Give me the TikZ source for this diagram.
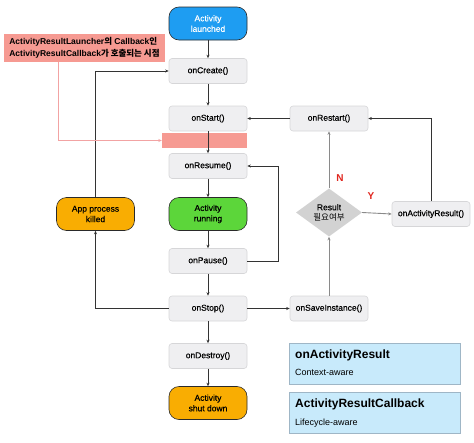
\documentclass[tikz,border=0pt]{standalone}
\usepackage{fontspec}
\setmainfont{Liberation Sans}
\newfontfamily\medfont[FakeBold=0.35]{Liberation Sans}
\newfontfamily\kr{Noto Sans CJK KR}
\usetikzlibrary{shapes.geometric,arrows.meta,calc}
\definecolor{nodegray}{HTML}{EFEFF1}
\definecolor{nodeborder}{HTML}{D6D6D8}
\definecolor{launchblue}{HTML}{1E9DF2}
\definecolor{runGreen}{HTML}{5CD63A}
\definecolor{killOrange}{HTML}{F9AD02}
\definecolor{salmon}{HTML}{F69A92}
\definecolor{pinkline}{HTML}{F2A3A3}
\definecolor{diagray}{HTML}{D2D2D2}
\definecolor{infoblue}{HTML}{C8EAFB}
\definecolor{infoborder}{HTML}{9FB6C6}
\definecolor{lblred}{HTML}{E0261E}
\definecolor{linegray}{HTML}{333333}
\definecolor{lightline}{HTML}{8A8A8A}
\definecolor{termborder}{HTML}{2A2A2A}
\begin{document}
\begin{tikzpicture}[x=1pt,y=-1pt,
  every node/.style={font=\fontsize{8.5}{10}\selectfont\medfont},
  stepbox/.style={draw=nodeborder,fill=nodegray,rounded corners=3pt,minimum width=78pt,minimum height=25pt,inner sep=1pt,line width=0.6pt},
  termbox/.style={draw=termborder,rounded corners=10pt,minimum width=78pt,minimum height=33pt,inner sep=1pt,align=center,line width=0.6pt,font=\fontsize{8.5}{10.5}\selectfont\medfont},
  infobox/.style={draw=infoborder,fill=infoblue,minimum width=171pt,minimum height=41pt,line width=0.8pt},
  conn/.style={draw=linegray,line width=0.7pt,-{Stealth[length=3.5pt,width=3pt]}},
  lconn/.style={draw=lightline,line width=0.9pt,-{Stealth[length=3.5pt,width=3pt]}},
  rlabel/.style={text=lblred,font=\fontsize{10}{12}\selectfont\bfseries}
]
\useasboundingbox (0,0) rectangle (474,442);

% nodes
\node[termbox,fill=launchblue,text=white] (launch) at (208,23.5) {Activity\\launched};
\node[stepbox] (create) at (208,71) {onCreate()};
\node[stepbox] (start) at (208,118.5) {onStart()};
\node[stepbox] (restart) at (329,118.5) {onRestart()};
\node[fill=salmon,minimum width=85pt,minimum height=15pt,inner sep=0pt] (mark) at (204.5,140.5) {};
\node[stepbox] (resume) at (208,166) {onResume()};
\node[termbox,fill=runGreen] (running) at (208,214) {Activity\\running};
\node[termbox,fill=killOrange] (killed) at (95.5,214) {App process\\killed};
\node[stepbox] (pause) at (208,261) {onPause()};
\node[stepbox] (stop) at (208,308.5) {onStop()};
\node[stepbox] (save) at (329,308.5) {onSaveInstance()};
\node[stepbox] (destroy) at (208,356) {onDestroy()};
\node[termbox,fill=killOrange] (shut) at (208,403) {Activity\\shut down};
\node[diamond,fill=diagray,minimum width=66pt,minimum height=41pt,inner sep=0pt,align=center,font=\fontsize{8.5}{10}\selectfont\medfont] (result) at (329,212.5) {Result\\{\kr 필요여부}};
\node[stepbox] (oar) at (431,214) {onActivityResult()};

\node[fill=salmon,minimum width=161pt,minimum height=28pt,inner sep=2pt,align=left,font=\fontsize{8.5}{11.5}\selectfont\bfseries] (callout) at (84.5,48)
  {ActivityResultLauncher{\kr\bfseries 의} Callback{\kr\bfseries 인}\\ActivityResultCallback{\kr\bfseries 가 호출되는 시점}};

\node[infobox] (info1) at (374.5,363.5) {};
\node[anchor=north west,inner sep=0pt,font=\fontsize{12}{14}\selectfont\bfseries] (info1t) at (295,350) {onActivityResult};
\node[anchor=north west,inner sep=0pt,font=\fontsize{9}{11}\selectfont] (info1s) at (295,369.5) {Context-aware};
\node[infobox] (info2) at (374.5,412.5) {};
\node[anchor=north west,inner sep=0pt,font=\fontsize{12}{14}\selectfont\bfseries] (info2t) at (295,399) {ActivityResultCallback};
\node[anchor=north west,inner sep=0pt,font=\fontsize{9}{11}\selectfont] (info2s) at (295,418.5) {Lifecycle-aware};

% connectors
\path[conn] (launch) -- (create);
\path[conn] (create) -- (start);
\path[conn] (start) -- (resume);
\path[conn] (resume) -- (running);
\path[conn] (running) -- (pause);
\path[conn] (pause) -- (stop);
\path[conn] (stop) -- (destroy);
\path[conn] (destroy) -- (shut);
\coordinate (loopx) at (278,261);
\path[conn] (pause.east) -- (loopx) |- (resume.east);
\path[conn] (stop) -- (save);
\path[conn] (restart) -- (start);
\path[conn] (stop.west) -| (killed.south);
\path[conn] (killed.north) |- (create.west);
\path[lconn] (save) -- (result);
\path[lconn] (result) -- (restart);
\path[lconn] (result.east) -- (oar.west);
\path[conn] (oar.north) |- (restart.east);
\coordinate (calloutfoot) at (58,62);
\path[draw=pinkline,line width=0.7pt,-{Stealth[length=3.5pt,width=3pt]}] (calloutfoot) |- (mark.west);

\node[rlabel] (nlbl) at (340,178) {N};
\node[rlabel] (ylbl) at (371,196) {Y};
\end{tikzpicture}
\end{document}
